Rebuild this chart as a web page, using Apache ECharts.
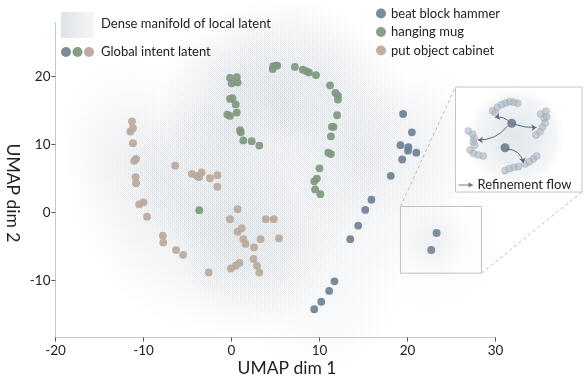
<!DOCTYPE html>
<html>
<head>
<meta charset="utf-8">
<script src="https://cdn.jsdelivr.net/npm/echarts@6/dist/echarts.min.js"></script>
<style>
  html, body { margin: 0; padding: 0; background: #fff; }
  #chart { width: 584px; height: 378px; }
</style>
</head>
<body>
<div id="chart"></div>
<script>
// UMAP coordinates
const hammer = [
  [19.5, 14.5], [20.5, 11.8], [19.2, 9.9], [20.1, 9.6], [20.05, 9.1], [21.0, 8.8],
  [19.4, 7.8], [18.1, 5.4], [15.9, 1.9], [15.2, 0.4], [14.4, -1.9], [13.5, -3.9],
  [11.7, -10.1], [11.1, -11.5], [10.2, -13.1], [9.4, -14.2]
];
const mug = [
  [4.75, 21.5], [5.06, 21.6], [5.2, 21.6], [4.68, 21.1], [7.2, 21.4], [8.1, 21.0],
  [8.5, 20.8], [8.8, 20.6], [9.6, 20.2], [11.2, 18.7], [11.8, 17.6], [12.1, 17.2],
  [12.1, 16.6], [12.0, 14.3], [11.4, 12.6], [11.6, 12.6], [11.3, 11.2], [11.0, 8.8],
  [11.3, 8.6], [10.0, 6.5], [9.7, 5.0], [9.4, 4.6], [9.5, 3.4], [10.1, 2.7],
  [-0.17, 19.8], [0.6, 19.9], [0.02, 19.0], [0.7, 19.1], [-0.17, 16.7], [0.1, 16.8],
  [0.48, 15.9], [-0.48, 14.4], [-0.17, 14.2], [0.6, 14.7], [0.97, 12.1], [1.05, 11.8],
  [1.34, 10.6], [2.3, 10.5], [3.16, 9.85], [-3.66, 0.35]
];
const cabinet = [
  [-11.3, 13.4], [-11.2, 12.4], [-11.5, 11.9], [-11.2, 10.2], [-10.85, 7.9], [-11.05, 7.6],
  [-10.9, 5.2], [-10.85, 4.3], [-10.5, 1.2], [-10.0, 1.5], [-9.6, -0.6], [-7.8, -3.4],
  [-7.75, -4.4], [-6.3, -5.5], [-5.5, -6.2], [-6.4, 6.9], [-4.5, 5.7], [-3.95, 5.4],
  [-3.7, 5.2], [-3.4, 5.9], [-2.45, 5.05], [-1.6, 5.5], [-1.6, 3.8], [0.7, 0.5],
  [-0.17, -0.97], [1.16, -2.3], [0.7, -2.8], [1.34, -3.9], [1.6, -4.6], [2.56, -5.1],
  [3.3, -3.9], [3.9, -0.97], [4.8, -0.97], [5.4, -3.8], [2.5, -6.8], [2.9, -7.8],
  [3.16, -8.8], [0.9, -7.4], [0.48, -7.8], [-0.06, -8.2], [-2.6, -8.8]
];
// global intent latents inside the small box
const globalPts = [[23.3, -3.0], [22.7, -5.5]];
const zoomBox = [[19.2, 0.9], [28.4, -8.9]];

// zoomed inset, in local units of the inset panel
const insetLocal = [
  [37.2, 23.7], [39.5, 25.7], [41.8, 20.3], [46.2, 17.7], [50.2, 16], [54.2, 14.7], [58.2, 15.3], [62.2, 16.3],
  [85.2, 27], [90.5, 24.3], [88.8, 31.3], [89.5, 36.3], [86.8, 40.3], [84.5, 44.7], [80.5, 48], [91.2, 29.7],
  [12.8, 44], [17.2, 47.3], [18.5, 51.3], [17.8, 55], [19.2, 58.3], [14.5, 63], [17.8, 66.3], [22.8, 68], [27.8, 69],
  [49.5, 83.7], [53.8, 81.7], [58.5, 80.3], [62.8, 79.7], [69.5, 77], [73.8, 74.7], [77.8, 72], [81.2, 69]
];
const insetGlobal = [[56.2, 36.3], [49.5, 60.7]];
const insetFlow = [
  { from: [55, 36], to: [39.5, 30.5], curve: -0.3 },
  { from: [58, 37], to: [81, 40.5], curve: -0.1 },
  { from: [52, 39], to: [22.5, 53], curve: 0.25 },
  { from: [50.5, 62], to: [68, 76], curve: 0.4 }
];

const xTicks = [-20, -10, 0, 10, 20, 30];
const yTicks = [-10, 0, 10, 20];
const seriesNames = ['beat block hammer', 'hanging mug', 'put object cabinet'];
const colors = ['#6e8195', '#7f987e', '#baa99c'];

const font = 'Lato, "Noto Sans", sans-serif';
const chart = echarts.init(document.getElementById('chart'));

// soft kernel used to paint the density of the local latent
const kernel = (a0, a1) => ({
  type: 'radial', x: 0.5, y: 0.5, r: 0.5,
  colorStops: [
    { offset: 0, color: `rgba(140,156,174,${a0})` },
    { offset: 0.5, color: `rgba(140,156,174,${a1})` },
    { offset: 1, color: 'rgba(140,156,174,0)' }
  ]
});

const option = {
  animation: false,
  backgroundColor: '#fff',
  textStyle: { fontFamily: font },
  grid: [
    { left: 55.5, right: 88.5, top: 22.7, bottom: 40.5 },
    { left: 455.5, top: 87, width: 126.5, height: 105 }
  ],
  xAxis: [
    {
      type: 'value', min: xTicks[0], max: xTicks[xTicks.length - 1], interval: 10,
      axisLine: { onZero: false, lineStyle: { color: '#c6c6c6', width: 1 } },
      axisTick: { length: 4, lineStyle: { color: '#555' } },
      axisLabel: { color: '#222', fontSize: 13.5, margin: 6, fontFamily: font },
      splitLine: { show: false }
    },
    { type: 'value', gridIndex: 1, min: 0, max: 126.5, show: false }
  ],
  yAxis: [
    {
      type: 'value', min: -18.35, max: 27.9,
      axisLine: { show: true, onZero: false, lineStyle: { color: '#c6c6c6', width: 1 } },
      axisTick: { show: true, length: 4, customValues: yTicks, lineStyle: { color: '#555' } },
      axisLabel: { color: '#222', fontSize: 13.5, margin: 5, customValues: yTicks, fontFamily: font },
      splitLine: { show: false }
    },
    { type: 'value', gridIndex: 1, min: 0, max: 105, inverse: true, show: false }
  ],
  legend: {
    data: seriesNames,
    orient: 'vertical', left: 371, top: 2,
    icon: 'circle', itemWidth: 10, itemHeight: 10, itemGap: 5.5,
    textStyle: { fontSize: 13, color: '#222', fontFamily: font }
  },
  series: [
    {
      type: 'scatter', silent: true, z: 1,
      data: hammer.concat(mug, cabinet, globalPts),
      symbolSize: 150,
      itemStyle: { color: kernel(0.022, 0.014) }
    },
    {
      type: 'scatter', silent: true, z: 1,
      data: globalPts,
      symbolSize: 62,
      itemStyle: { color: kernel(0.09, 0.05) }
    },
    ...seriesNames.map((name, i) => ({
      name, type: 'scatter', z: 3,
      data: [hammer, mug, cabinet][i],
      symbolSize: 7.8,
      itemStyle: { color: colors[i], opacity: 0.92 }
    })),
    {
      type: 'scatter', z: 4, data: globalPts, symbolSize: 8,
      itemStyle: { color: '#637689' }
    },
    // inset panel
    {
      type: 'scatter', xAxisIndex: 1, yAxisIndex: 1, z: 12, silent: true,
      data: insetLocal, symbolSize: 7,
      itemStyle: { color: 'rgba(170,181,193,0.75)', borderColor: 'rgba(150,162,175,0.8)', borderWidth: 0.6 }
    },
    {
      type: 'lines', coordinateSystem: 'cartesian2d', xAxisIndex: 1, yAxisIndex: 1, z: 13, silent: true,
      symbol: ['none', 'arrow'], symbolSize: 5,
      data: insetFlow.map(f => ({ coords: [f.from, f.to], lineStyle: { curveness: f.curve } })),
      lineStyle: { color: '#586a7c', width: 1, opacity: 1 }
    },
    {
      type: 'scatter', xAxisIndex: 1, yAxisIndex: 1, z: 14, silent: true,
      data: insetGlobal, symbolSize: 9,
      itemStyle: { color: '#5d6f82' }
    }
  ]
};
chart.setOption(option);

// boxes, guide lines and the left legend
const p0 = chart.convertToPixel({ gridIndex: 0 }, zoomBox[0]);
const p1 = chart.convertToPixel({ gridIndex: 0 }, zoomBox[1]);
const b0 = chart.convertToPixel({ gridIndex: 1 }, [0, 0]);
const b1 = chart.convertToPixel({ gridIndex: 1 }, [126.5, 105]);
const dash = { stroke: '#a8a8a8', lineWidth: 0.8, lineDash: [3, 3] };

chart.setOption({
  graphic: [
    { type: 'line', z: 5, shape: { x1: p0[0], y1: p0[1], x2: b0[0], y2: b0[1] }, style: dash },
    { type: 'line', z: 5, shape: { x1: p1[0], y1: p1[1], x2: b1[0], y2: b1[1] }, style: dash },
    { type: 'rect', z: 5, shape: { x: p0[0], y: p0[1], width: p1[0] - p0[0], height: p1[1] - p0[1] },
      style: { fill: 'none', stroke: '#c2c2c2', lineWidth: 1 } },
    { type: 'rect', z: 10, shape: { x: b0[0], y: b0[1], width: b1[0] - b0[0], height: b1[1] - b0[1] },
      style: { fill: '#fff', stroke: '#c6c6c6', lineWidth: 1 } },
    { type: 'ellipse', z: 11, shape: { cx: b0[0] + 60, cy: b0[1] + 50, rx: 64, ry: 50 },
      style: { fill: { type: 'radial', x: 0.5, y: 0.5, r: 0.5, colorStops: [
        { offset: 0, color: '#e2e6ea' }, { offset: 0.45, color: '#ebeef1' },
        { offset: 0.8, color: '#f4f5f7' }, { offset: 1, color: 'rgba(248,249,250,0)' }] } } },
    { type: 'line', z: 15, shape: { x1: b0[0] + 3, y1: b1[1] - 7, x2: b0[0] + 15, y2: b1[1] - 7 },
      style: { stroke: '#6a7b8c', lineWidth: 1 } },
    { type: 'polygon', z: 15, shape: { points: [[b0[0] + 18, b1[1] - 7], [b0[0] + 13, b1[1] - 9.5], [b0[0] + 13, b1[1] - 4.5]] },
      style: { fill: '#6a7b8c' } },
    { type: 'text', z: 15, x: b0[0] + 22, y: b1[1] - 7,
      style: { text: 'Refinement flow', fontSize: 13, fill: '#222', fontFamily: font, verticalAlign: 'middle' } },

    // left legend
    { type: 'rect', z: 20, shape: { x: 61, y: 12, width: 33, height: 26 },
      style: { fill: { type: 'linear', x: 0, y: 0, x2: 1, y2: 0, colorStops: [
        { offset: 0, color: '#dde2e7' }, { offset: 0.6, color: '#eceff2' }, { offset: 1, color: '#f5f6f8' }] } } },
    { type: 'text', z: 20, x: 101, y: 24,
      style: { text: 'Dense manifold of local latent', fontSize: 13, fill: '#222', fontFamily: font, verticalAlign: 'middle' } },
    { type: 'circle', z: 20, shape: { cx: 66, cy: 52, r: 5 }, style: { fill: '#7b8b9c' } },
    { type: 'circle', z: 20, shape: { cx: 77.5, cy: 52, r: 5 }, style: { fill: '#889d87' } },
    { type: 'circle', z: 20, shape: { cx: 89, cy: 52, r: 5 }, style: { fill: '#bdada3' } },
    { type: 'text', z: 20, x: 101, y: 52,
      style: { text: 'Global intent latent', fontSize: 13, fill: '#222', fontFamily: font, verticalAlign: 'middle' } },

    // axis titles
    { type: 'text', z: 20, x: 287, y: 368,
      style: { text: 'UMAP dim 1', fontSize: 17.5, fill: '#222', fontFamily: font, align: 'center', verticalAlign: 'middle' } },
    { type: 'text', z: 20, x: 13, y: 193, rotation: -Math.PI / 2,
      style: { text: 'UMAP dim 2', fontSize: 17.5, fill: '#222', fontFamily: font, align: 'center', verticalAlign: 'middle' } }
  ]
});
</script>
</body>
</html>
